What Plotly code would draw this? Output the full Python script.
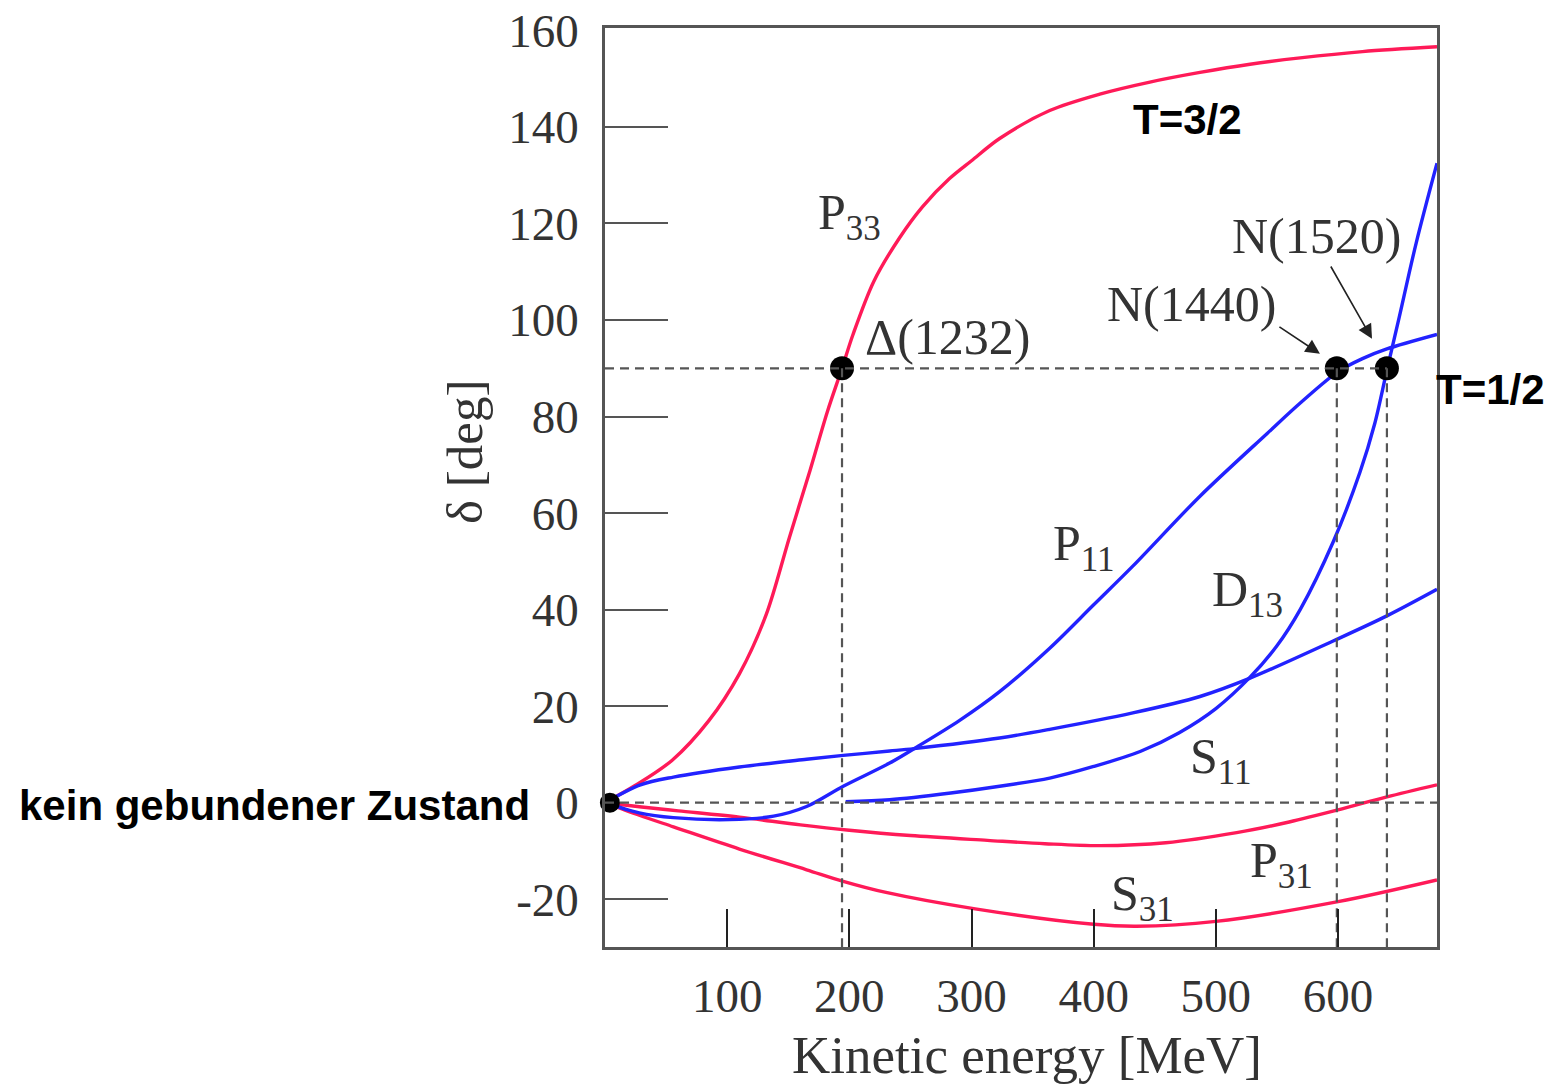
import plotly.graph_objects as go

# ---- phase shifts (pion-nucleon scattering), energy in MeV, delta in degrees ----
p33_E = [0, 25, 55, 85, 110, 132, 151, 168, 182, 194, 203, 220, 241, 260, 282, 300, 323, 364, 405, 446, 487, 528, 569, 620, 681]
p33_d = [0, 3.6, 8.8, 17, 26.7, 39, 55, 69, 81, 90, 97, 108, 117, 123.5, 129.3, 133, 137.6, 143.4, 146.8, 149.3, 151.3, 153, 154.3, 155.6, 156.6]

p31_E = [0, 30, 60, 110, 160, 200, 250, 313, 360, 405, 459, 517, 560, 600, 640, 681]
p31_d = [0, -0.9, -1.7, -3.0, -4.6, -5.7, -6.8, -7.8, -8.5, -8.9, -8.3, -6.2, -4.0, -1.5, 1.2, 3.7]

s31_E = [0, 28, 56, 110, 165, 195, 230, 303, 400, 435, 500, 600, 681]
s31_d = [0, -2.6, -5.0, -9.6, -13.9, -16.3, -18.6, -22, -25.2, -25.6, -24.6, -20.5, -16.0]

p11_E = [0, 28, 56, 102, 138, 165, 195, 233, 255, 290, 323, 364, 400, 432, 487, 542, 570, 600, 620, 640, 681]
p11_d = [0, -2.1, -3.1, -3.5, -2.8, -0.8, 3.4, 8.2, 11.5, 17, 23, 32, 41, 49, 63.5, 76.5, 83, 89.3, 92, 94, 97]

s11_E = [0, 29, 56, 110, 165, 195, 233, 253, 323, 364, 432, 487, 528, 596, 640, 681]
s11_d = [0, 3.7, 5.3, 7.4, 9.0, 9.8, 10.7, 11.2, 13.4, 15.2, 18.6, 22.0, 25.8, 33.5, 38.7, 44.2]

d13_E = [197, 233, 283, 323, 364, 400, 438, 470, 500, 528, 550, 569, 596, 618, 630, 640, 650, 664, 681]
d13_d = [0.2, 0.6, 2.0, 3.4, 5.1, 7.5, 10.6, 14.5, 19.5, 26, 32.5, 40, 54, 68.5, 78.5, 89.6, 100.5, 116, 132.5]

# resonances: energy where the phase passes 90 degrees
res_names = ["Δ(1232)", "N(1440)", "N(1520)"]
res_E = [194, 599, 640]
res_d = [90, 90, 90]

x_ticks = [100, 200, 300, 400, 500, 600]
y_ticks = [-20, 0, 20, 40, 60, 80, 100, 120, 140, 160]

X_RANGE = [0, 681]
Y_RANGE = [-29.9, 160.5]

RED = "#ff1a58"
BLUE = "#2222ff"
GRID = "#555555"
TXT = "#333333"
SERIF = "Liberation Serif"
SANS = "Liberation Sans"

fig = go.Figure()

# dashed guide lines (drawn first so curves sit on top)
guide = dict(color=GRID, width=2.2, dash="9px,6px")
fig.add_trace(go.Scatter(x=[0, max(res_E)], y=[90, 90], mode="lines", line=guide,
                         hoverinfo="skip", yaxis="y2"))
fig.add_trace(go.Scatter(x=[0, X_RANGE[1]], y=[0, 0], mode="lines", line=guide,
                         hoverinfo="skip", yaxis="y2"))
for e, d in zip(res_E, res_d):
    fig.add_trace(go.Scatter(x=[e, e], y=[d, Y_RANGE[0]], mode="lines", line=guide,
                             hoverinfo="skip", yaxis="y2"))

curves = [
    (p31_E, p31_d, RED),
    (s31_E, s31_d, RED),
    (p33_E, p33_d, RED),
    (s11_E, s11_d, BLUE),
    (p11_E, p11_d, BLUE),
    (d13_E, d13_d, BLUE),
]
for xs, ys, col in curves:
    fig.add_trace(go.Scatter(x=xs, y=ys, mode="lines",
                             line=dict(color=col, width=3.4, shape="spline", smoothing=0.9),
                             hoverinfo="skip"))

# resonance markers and the common origin
fig.add_trace(go.Scatter(x=res_E, y=res_d, mode="markers",
                         marker=dict(color="black", size=24), cliponaxis=False))
fig.add_trace(go.Scatter(x=[4], y=[0], mode="markers",
                         marker=dict(color="black", size=20), cliponaxis=False))

ann = []


def label(text, x, y, size=50, color=TXT, family=SERIF, weight="normal", ref="x",
          xanchor="center", yanchor="middle", **kw):
    xr, yr = ("x", "y") if ref == "x" else ("paper", "paper")
    ann.append(dict(text=text, x=x, y=y, xref=xr, yref=yr, showarrow=False,
                    xanchor=xanchor, yanchor=yanchor,
                    font=dict(family=family, size=size, color=color, weight=weight), **kw))


label("P<sub>33</sub>", 200.5, 121.5)
label(res_names[0], 280, 96.5)
label(res_names[1], 480.4, 103.3)
label(res_names[2], 582, 117.5)
label("P<sub>11</sub>", 392, 53.0)
label("D<sub>13</sub>", 525.5, 43.5)
label("S<sub>11</sub>", 504, 8.8)
label("P<sub>31</sub>", 554, -12.8)
label("S<sub>31</sub>", 440, -19.6)

label("T=3/2", 477, 141.5, size=42, color="black", family=SANS, weight="bold")
label("T=1/2", 1.0649, 0.6061, size=42, color="black", family=SANS, weight="bold", ref="paper")
label("kein gebundener Zustand", -0.0877, 0.1545, size=42, color="black", family=SANS,
      weight="bold", xanchor="right", ref="paper")

# axis titles
label("Kinetic energy [MeV]", 0.5072, -0.1175, size=53, ref="paper")
label("δ [deg]", -0.1683, 0.5386, size=51, textangle=-90, ref="paper")

# arrows pointing at the N resonances
for (tx, ty), (hx, hy) in [((550.8, 98.8), (585.2, 93.0)), ((593.4, 111.4), (627.8, 96.1))]:
    ann.append(dict(x=hx, y=hy, ax=tx, ay=ty, xref="x", yref="y", axref="x", ayref="y",
                    showarrow=True, arrowhead=2, arrowsize=1.8, arrowwidth=1.6,
                    arrowcolor="#222222", text=""))

fig.update_layout(
    width=1551, height=1087,
    margin=dict(l=605, r=114, t=28, b=140, autoexpand=False),
    paper_bgcolor="white", plot_bgcolor="white",
    showlegend=False,
    annotations=ann,
    xaxis=dict(range=X_RANGE, tickvals=x_ticks, ticktext=[str(v) for v in x_ticks],
               ticks="inside", ticklen=38, tickwidth=1.5, tickcolor="#222222",
               showline=True, linecolor=GRID, linewidth=2.5, mirror=True,
               showgrid=False, zeroline=False, automargin=False,
               tickfont=dict(family=SERIF, size=47, color=TXT), ticklabelstandoff=6),
    yaxis=dict(range=Y_RANGE, tickvals=y_ticks, ticktext=[str(v) for v in y_ticks],
               ticks="", showline=True, linecolor=GRID, linewidth=2.5, mirror=True,
               showgrid=False, zeroline=False, automargin=False,
               tickfont=dict(family=SERIF, size=47, color=TXT), ticklabelstandoff=14),
    yaxis2=dict(range=Y_RANGE, overlaying="y", side="left",
                tickvals=[v for v in y_ticks if v not in (0, 160)],
                ticks="inside", ticklen=63, tickwidth=2.2, tickcolor=GRID,
                showticklabels=False, showline=False, showgrid=False, zeroline=False,
                automargin=False),
)

fig.write_html("out.html")
